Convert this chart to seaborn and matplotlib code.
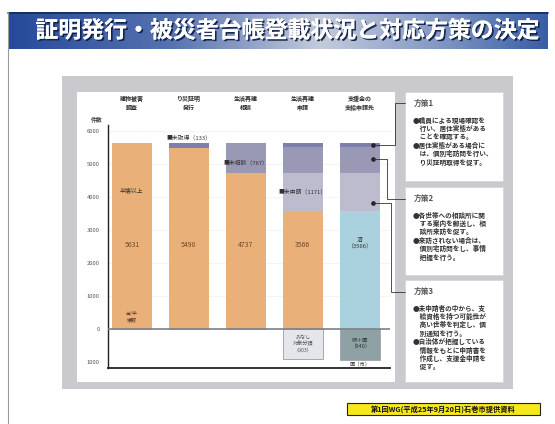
import numpy as np
import matplotlib
matplotlib.use("Agg")
import matplotlib.pyplot as plt
import matplotlib.patheffects as pe
from matplotlib.colors import LinearSegmentedColormap
from matplotlib.patches import Rectangle
import seaborn as sns

# ---------------- data ----------------
categories = ["建物被害\n調査", "り災証明\n発行", "生活再建\n相談", "生活再建\n申請", "支援金の\n支給申請先"]
base_vals = [5631, 5498, 4737, 3566, 3566]
seg2_vals = [0, 133, 767, 1171, 1171]
seg3_vals = [0, 0, 127, 767, 767]
seg4_vals = [0, 0, 0, 127, 127]
neg_vals = [0, 0, 0, -903, -940]
yticks = [-1000, 0, 1000, 2000, 3000, 4000, 5000, 6000]
ytick_labels = ["1000", "0", "1000", "2000", "3000", "4000", "5000", "6000"]
title = "証明発行・被災者台帳登載状況と対応方策の決定"
source = "第1回WG(平成25年9月20日)石巻市提供資料"
box_titles = ["方策1", "方策2", "方策3"]
box_lines = [
    ["●職員による現場確認を", "　行い、居住実態がある", "　ことを確認する。",
     "●居住実態がある場合に", "　は、個別宅訪問を行い、", "　り災証明取得を促す。"],
    ["●各世帯への相談所に関", "　する案内を郵送し、相", "　談所来訪を促す。",
     "●来訪されない場合は、", "　個別宅訪問をし、事情", "　把握を行う。"],
    ["●未申請者の中から、支", "　給資格を持つ可能性が", "　高い世帯を判定し、個",
     "　別通知を行う。", "●自治体が把握している", "　情報をもとに申請書を",
     "　作成し、支援金申請を", "　促す。"],
]

# ---------------- style ----------------
sns.set_theme(style="white")
plt.rcParams["font.family"] = ["Noto Sans CJK JP", "DejaVu Sans"]

W, H = 555, 424
fig = plt.figure(figsize=(W / 100, H / 100), dpi=100)
fig.patch.set_facecolor("white")

# background layer in pixel coordinates
bg = fig.add_axes([0, 0, 1, 1], zorder=0)
bg.set_xlim(0, W); bg.set_ylim(H, 0); bg.axis("off")

# title bar gradient
cmap = LinearSegmentedColormap.from_list(
    "tb", [(0, "#27499a"), (0.3, "#5673b0"), (0.58, "#c4cbdb"), (0.8, "#8298c4"), (1, "#3a5ea6")])
grad = np.linspace(0, 1, 300)[None, :]
bg.imshow(grad, cmap=cmap, extent=[8, 548, 49, 12], aspect="auto", zorder=1)
bg.plot([8, 548], [12.5, 12.5], color="#15295a", lw=1.2, zorder=2)
bg.plot([8, 8], [12, 424], color="#9a9a9a", lw=0.8, zorder=2)
bg.text(287, 31, title, color="white", fontsize=16.5, fontweight="bold",
        ha="center", va="center", zorder=3,
        path_effects=[pe.withSimplePatchShadow(offset=(1.2, -1.2), shadow_rgbFace="#0d1c45", alpha=0.9),
                      pe.Normal()])

# gray panel and white chart area
bg.add_patch(Rectangle((62, 76), 451, 313, facecolor="#c9c9ce", edgecolor="none", zorder=1))
bg.add_patch(Rectangle((77, 92), 318, 290, facecolor="white", edgecolor="none", zorder=2))

# ---------------- chart ----------------
ax = fig.add_axes([108 / W, (H - 368) / H, 282 / W, (368 - 125) / H], zorder=2)
ax.set_facecolor("none")

c_orange = "#eab07a"
c_blue = "#aad2de"
c_dark = "#9a99b5"
c_light = "#bdbccf"
c_top = "#7d7fae"

l1 = np.array(base_vals)
l2 = l1 + np.array(seg2_vals)
l3 = l2 + np.array(seg3_vals)
l4 = l3 + np.array(seg4_vals)

layers = [
    (l4, [c_orange, c_top, c_dark, c_top, c_top]),
    (l3, [c_orange, c_top, c_dark, c_dark, c_dark]),
    (l2, [c_orange, c_top, c_dark, c_light, c_light]),
    (l1, [c_orange, c_orange, c_orange, c_orange, c_blue]),
]
for vals, cols in layers:
    sns.barplot(x=categories, y=vals, hue=categories, palette=cols, order=categories,
                hue_order=categories, legend=False, width=0.7, saturation=1,
                dodge=False, linewidth=0, ax=ax)

sns.barplot(x=categories, y=neg_vals, hue=categories,
            palette=["#e4e6ec", "#e4e6ec", "#e4e6ec", "#e4e6ec", "#8ea2a6"],
            order=categories, hue_order=categories, legend=False, width=0.7,
            saturation=1, dodge=False, linewidth=0.7, edgecolor="#a4a8b0", ax=ax)

ax.set_xlim(-0.42, 4.53)
ax.set_ylim(-1180, 6180)
ax.set_xlabel(""); ax.set_ylabel("")
ax.set_yticks(yticks)
ax.set_yticklabels(ytick_labels, fontsize=4.2, color="#555555")
for y in [1000, 2000, 3000, 4000, 5000, 6000]:
    ax.axhline(y, color="#e2e2e2", lw=0.5, ls=(0, (1, 1)), zorder=0)
ax.axhline(0, color="#7c8088", lw=1.2, zorder=3)

ax.xaxis.tick_top()
ax.set_xticks(range(len(categories)))
ax.set_xticklabels(categories, fontsize=4.3, color="#2a2a2a", linespacing=1.3,
                   fontweight="bold")
ax.tick_params(axis="x", length=0, pad=10)
ax.tick_params(axis="y", length=0, pad=6)
for s in ["top", "right"]:
    ax.spines[s].set_visible(False)
ax.spines["left"].set_color("#222222"); ax.spines["left"].set_linewidth(1.0)
ax.spines["bottom"].set_color("#222222"); ax.spines["bottom"].set_linewidth(1.3)
ax.text(-0.62, 6330, "件数", fontsize=4.2, color="#444444", ha="center", va="center",
        fontweight="bold")

# bar labels
lbl = dict(fontsize=4.2, color="#333333", ha="center", va="center", zorder=5)
ax.text(0, 4210, "半壊以上", **lbl)
for i, v in enumerate(base_vals[:4]):
    ax.text(i, 2550, f"{v}", fontsize=5, color="#6b4a2a", ha="center", va="center", zorder=5)
ax.text(0, 380, "全/半\n壊数", fontsize=3.6, color="#5a3a20", ha="center", va="center", zorder=5)
ax.text(1, 5810, "■未取得（133）", **lbl)
ax.text(2, 5040, "■未相談（767）", **lbl)
ax.text(3, 4150, "■未申請（1171）", **lbl)
ax.text(4, 2580, "済\n（3566）", fontsize=4.2, color="#333333", ha="center", va="center",
        linespacing=1.3, zorder=5)
ax.text(3, -450, "みなし\n対象分類\n（903）", fontsize=3.7, color="#555555", ha="center",
        va="center", linespacing=1.2, zorder=5)
ax.text(4, -450, "県＋国\n（940）", fontsize=4, color="#333333", ha="center", va="center",
        linespacing=1.3, zorder=5)
ax.text(4, -1080, "国（市）", fontsize=3.8, color="#333333", ha="center", va="center", zorder=5)

dot_x = 4.23
dot_ys = [5565, 5150, 3820]
ax.plot([dot_x] * 3, dot_ys, "o", ms=2.3, color="#222222", clip_on=False, zorder=6)

# ---------------- overlay: connectors and boxes ----------------
ov = fig.add_axes([0, 0, 1, 1], zorder=3)
ov.set_xlim(0, W); ov.set_ylim(H, 0); ov.axis("off"); ov.set_facecolor("none")

fig.canvas.draw()
dot_px = []
for y in dot_ys:
    dx, dy = ax.transData.transform((dot_x, y))
    dot_px.append((dx, H - dy))

box_rects = [(405, 92, 98, 89), (405, 187, 98, 88), (405, 280, 98, 102)]
turn_x = [395, 387, 391]
box_y = [103, 199, 292]
for (px, py), tx, by in zip(dot_px, turn_x, box_y):
    ov.plot([px, tx, tx, 405], [py, py, by, by], color="#333333", lw=0.6,
            solid_joinstyle="miter")

for (bx, by, bw, bh), t, lines in zip(box_rects, box_titles, box_lines):
    ov.add_patch(Rectangle((bx, by), bw, bh, facecolor="white", edgecolor="#d8d8dc", lw=0.6))
    ov.text(bx + 9, by + 11, t, fontsize=5.6, color="#555555", ha="left", va="center",
            fontweight="bold")
    for k, line in enumerate(lines):
        ov.text(bx + 8, by + 28 + k * 8.4, line, fontsize=4.8, color="#333333",
                ha="left", va="center", fontweight="bold")

# source note
ov.add_patch(Rectangle((347, 403), 193, 12, facecolor="#f5e81c", edgecolor="#222222", lw=0.8))
ov.text(443.5, 409, source, fontsize=5.2, color="#111111", ha="center", va="center",
        fontweight="bold")

fig.savefig("out.png", dpi=100)
